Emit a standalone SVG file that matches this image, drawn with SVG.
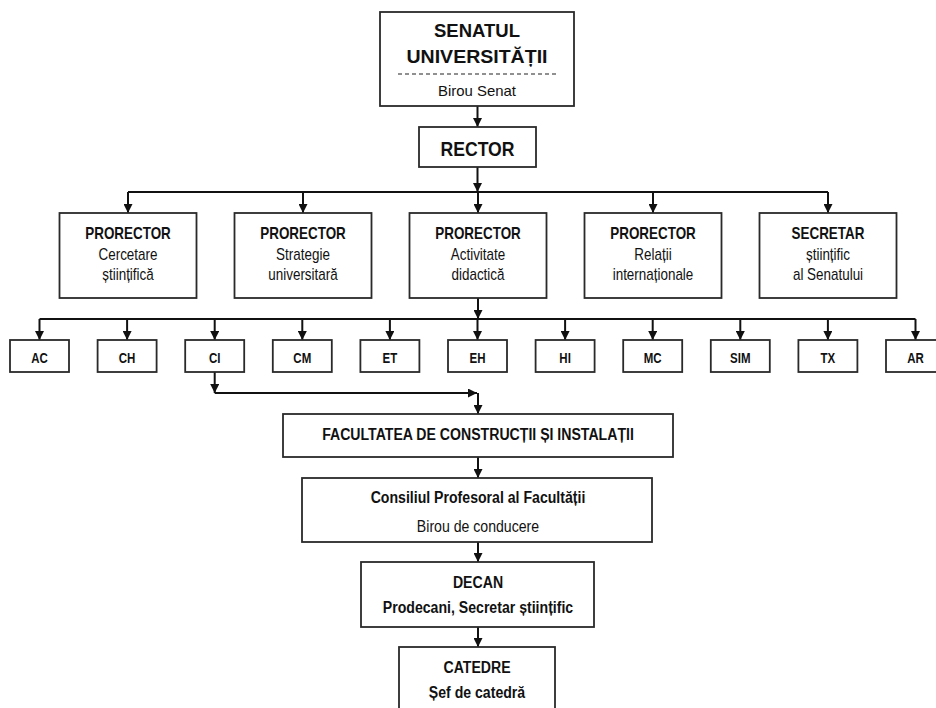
<svg xmlns="http://www.w3.org/2000/svg" width="936" height="708" viewBox="0 0 936 708">
<style>
  rect.box { fill: #fff; stroke: #2a2a2a; stroke-width: 1.8; }
  .conn path { fill: none; stroke: #111; stroke-width: 2; }
  text { font-family: "Liberation Sans", Arial, sans-serif; fill: #111; text-anchor: middle; }
  .b { font-weight: bold; }
  .s14 { font-size: 14px; }
  .s15 { font-size: 15px; }
  .s16 { font-size: 16px; }
  .s17 { font-size: 17px; }
  .s18 { font-size: 18px; }
  .s20 { font-size: 20px; }
</style>
<defs>
  <marker id="arr" viewBox="0 0 10 10" refX="10" refY="5" markerWidth="10" markerHeight="9" markerUnits="userSpaceOnUse" orient="auto">
    <path d="M0,0 L10,5 L0,10 z" fill="#111"/>
  </marker>
</defs>
<rect width="936" height="708" fill="#fff"/>

<g class="conn">
  <path d="M477.5 106 V127" marker-end="url(#arr)"/>
  <path d="M477.5 167 V192" marker-end="url(#arr)"/>
  <path d="M128 192 H828"/>
  <path d="M128 192 V213" marker-end="url(#arr)"/>
  <path d="M303 192 V213" marker-end="url(#arr)"/>
  <path d="M478 192 V213" marker-end="url(#arr)"/>
  <path d="M653 192 V213" marker-end="url(#arr)"/>
  <path d="M828 192 V213" marker-end="url(#arr)"/>
  <path d="M478 298 V319" marker-end="url(#arr)"/>
  <path d="M39.5 319 H915.5"/>
  <path d="M39.5 319 V340" marker-end="url(#arr)"/>
  <path d="M127.1 319 V340" marker-end="url(#arr)"/>
  <path d="M214.7 319 V340" marker-end="url(#arr)"/>
  <path d="M302.3 319 V340" marker-end="url(#arr)"/>
  <path d="M389.9 319 V340" marker-end="url(#arr)"/>
  <path d="M477.5 319 V340" marker-end="url(#arr)"/>
  <path d="M565.1 319 V340" marker-end="url(#arr)"/>
  <path d="M652.7 319 V340" marker-end="url(#arr)"/>
  <path d="M740.3 319 V340" marker-end="url(#arr)"/>
  <path d="M827.9 319 V340" marker-end="url(#arr)"/>
  <path d="M915.5 319 V340" marker-end="url(#arr)"/>
  <path d="M214.7 372 V393" marker-end="url(#arr)"/>
  <path d="M214.7 393 H477" marker-end="url(#arr)"/>
  <path d="M478 393 V414" marker-end="url(#arr)"/>
  <path d="M478 457 V478" marker-end="url(#arr)"/>
  <path d="M478 542 V562" marker-end="url(#arr)"/>
  <path d="M478 627 V647" marker-end="url(#arr)"/>
</g>

<g id="senat">
  <rect class="box" x="380" y="12" width="194" height="94"/>
  <text class="b s18" x="477" y="37" textLength="86" lengthAdjust="spacingAndGlyphs">SENATUL</text>
  <text class="b s18" x="477" y="63" textLength="141" lengthAdjust="spacingAndGlyphs">UNIVERSITĂȚII</text>
  <line x1="398" y1="74" x2="556" y2="74" stroke="#222" stroke-width="1.2" stroke-dasharray="4 3"/>
  <text class="s15" x="477" y="96" textLength="78" lengthAdjust="spacingAndGlyphs">Birou Senat</text>
</g>

<g id="rector">
  <rect class="box" x="419" y="127" width="117" height="40"/>
  <text class="b s20" x="477.5" y="156" textLength="74" lengthAdjust="spacingAndGlyphs">RECTOR</text>
</g>

<g id="prorector-cercetare">
  <rect class="box" x="59.5" y="213" width="137" height="85"/>
  <text class="b s16" transform="matrix(.84 0 0 1 128 239)">PRORECTOR</text>
  <text class="s16" transform="matrix(.84 0 0 1 128 260)">Cercetare</text>
  <text class="s16" transform="matrix(.84 0 0 1 128 280)">științifică</text>
</g>
<g id="prorector-strategie">
  <rect class="box" x="234.5" y="213" width="137" height="85"/>
  <text class="b s16" transform="matrix(.84 0 0 1 303 239)">PRORECTOR</text>
  <text class="s16" transform="matrix(.84 0 0 1 303 260)">Strategie</text>
  <text class="s16" transform="matrix(.84 0 0 1 303 280)">universitară</text>
</g>
<g id="prorector-didactica">
  <rect class="box" x="409.5" y="213" width="137" height="85"/>
  <text class="b s16" transform="matrix(.84 0 0 1 478 239)">PRORECTOR</text>
  <text class="s16" transform="matrix(.84 0 0 1 478 260)">Activitate</text>
  <text class="s16" transform="matrix(.84 0 0 1 478 280)">didactică</text>
</g>
<g id="prorector-relatii">
  <rect class="box" x="584.5" y="213" width="137" height="85"/>
  <text class="b s16" transform="matrix(.84 0 0 1 653 239)">PRORECTOR</text>
  <text class="s16" transform="matrix(.84 0 0 1 653 260)">Relații</text>
  <text class="s16" transform="matrix(.84 0 0 1 653 280)">internaționale</text>
</g>
<g id="secretar">
  <rect class="box" x="759.5" y="213" width="137" height="85"/>
  <text class="b s16" transform="matrix(.84 0 0 1 828 239)">SECRETAR</text>
  <text class="s16" transform="matrix(.84 0 0 1 828 260)">științific</text>
  <text class="s16" transform="matrix(.84 0 0 1 828 280)">al Senatului</text>
</g>

<g id="fac-AC"><rect class="box" x="10" y="340" width="59" height="32"/><text class="b s14" transform="matrix(.82 0 0 1 39.5 363)">AC</text></g>
<g id="fac-CH"><rect class="box" x="97.6" y="340" width="59" height="32"/><text class="b s14" transform="matrix(.82 0 0 1 127.1 363)">CH</text></g>
<g id="fac-CI"><rect class="box" x="185.2" y="340" width="59" height="32"/><text class="b s14" transform="matrix(.82 0 0 1 214.7 363)">CI</text></g>
<g id="fac-CM"><rect class="box" x="272.8" y="340" width="59" height="32"/><text class="b s14" transform="matrix(.82 0 0 1 302.3 363)">CM</text></g>
<g id="fac-ET"><rect class="box" x="360.4" y="340" width="59" height="32"/><text class="b s14" transform="matrix(.82 0 0 1 389.9 363)">ET</text></g>
<g id="fac-EH"><rect class="box" x="448" y="340" width="59" height="32"/><text class="b s14" transform="matrix(.82 0 0 1 477.5 363)">EH</text></g>
<g id="fac-HI"><rect class="box" x="535.6" y="340" width="59" height="32"/><text class="b s14" transform="matrix(.82 0 0 1 565.1 363)">HI</text></g>
<g id="fac-MC"><rect class="box" x="623.2" y="340" width="59" height="32"/><text class="b s14" transform="matrix(.82 0 0 1 652.7 363)">MC</text></g>
<g id="fac-SIM"><rect class="box" x="710.8" y="340" width="59" height="32"/><text class="b s14" transform="matrix(.82 0 0 1 740.3 363)">SIM</text></g>
<g id="fac-TX"><rect class="box" x="798.4" y="340" width="59" height="32"/><text class="b s14" transform="matrix(.82 0 0 1 827.9 363)">TX</text></g>
<g id="fac-AR"><rect class="box" x="886" y="340" width="59" height="32"/><text class="b s14" transform="matrix(.82 0 0 1 915.5 363)">AR</text></g>

<g id="facultatea">
  <rect class="box" x="283" y="414" width="390" height="43"/>
  <text class="b s17" transform="matrix(.83 0 0 1 478 440)">FACULTATEA DE CONSTRUCȚII ȘI INSTALAȚII</text>
</g>
<g id="consiliul">
  <rect class="box" x="302" y="478" width="350" height="64"/>
  <text class="b s17" transform="matrix(.83 0 0 1 478 503)">Consiliul Profesoral al Facultății</text>
  <text class="s17" transform="matrix(.83 0 0 1 478 532)">Birou de conducere</text>
</g>
<g id="decan">
  <rect class="box" x="361" y="562" width="233" height="65"/>
  <text class="b s17" transform="matrix(.83 0 0 1 478 588)">DECAN</text>
  <text class="b s17" transform="matrix(.83 0 0 1 478 613)">Prodecani, Secretar științific</text>
</g>
<g id="catedre">
  <rect class="box" x="399" y="647" width="156" height="80"/>
  <text class="b s17" transform="matrix(.83 0 0 1 477 673)">CATEDRE</text>
  <text class="b s17" transform="matrix(.83 0 0 1 477 698)">Șef de catedră</text>
</g>
</svg>
